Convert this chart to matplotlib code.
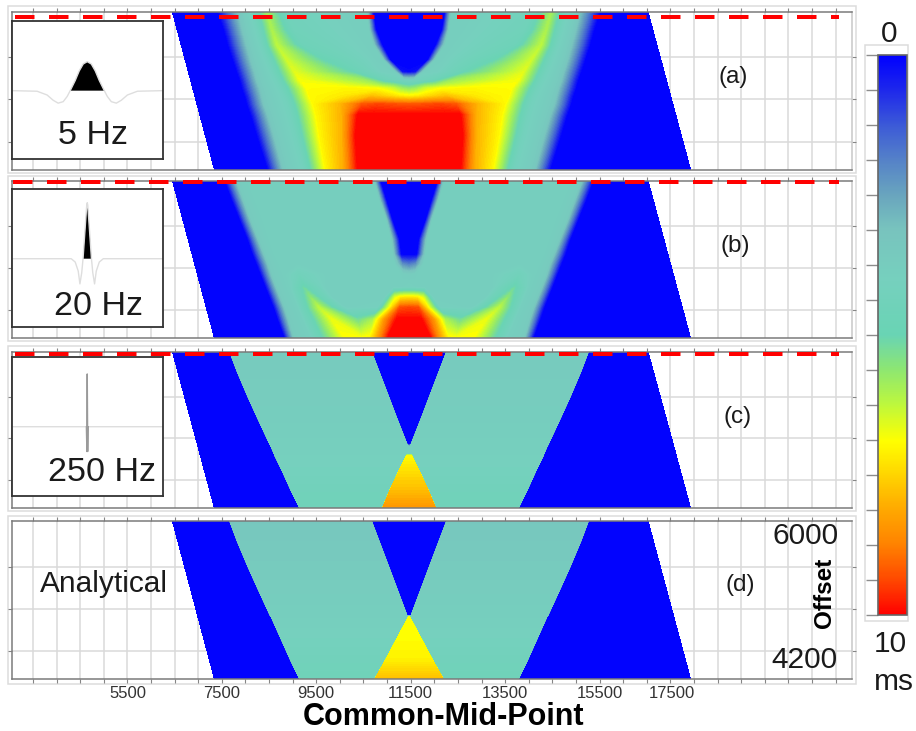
import numpy as np
import matplotlib
matplotlib.use("Agg")
import matplotlib.pyplot as plt
from matplotlib.colors import LinearSegmentedColormap, Normalize
from matplotlib.cm import ScalarMappable
from matplotlib.patches import Rectangle

plt.rcParams['font.family'] = ['Liberation Sans', 'DejaVu Sans']

W, H = 916, 731

# ---------- shared axis data ----------
CMP_CENTER = 11465
XLIM = (3043, 20849)
YLIM = (4165, 6040)
grid_x = np.arange(3500, 20501, 500)
grid_y = [4500, 5000, 5500]
edge_offsets = [4165, 6040]
left_edge = [7343, 6453]
right_edge = [17428, 16527]
xlabel_pos = [5500, 7500, 9500, 11500, 13500, 15500, 17036]
xlabel_txt = ['5500', '7500', '9500', '11500', '13500', '15500', '17500']

# colour scale (ms, r, g, b)
cmap_ms = [0, 0.625, 1.25, 1.875, 2.5, 3.1, 4, 5, 5.6, 6.25, 6.9, 8.1, 8.75, 9.4, 10]
cmap_rgb = [(0, 0, 255), (30, 40, 235), (60, 90, 215), (85, 130, 200), (105, 165, 190),
            (120, 195, 190), (118, 208, 190), (105, 212, 180), (140, 230, 115),
            (190, 248, 60), (255, 255, 0), (255, 170, 0), (255, 130, 0), (255, 70, 0), (255, 0, 0)]
cbar_ticks = np.arange(0, 10.01, 0.625)

# ---------- panel (a): half-widths from centre CMP and delays (ms) ----------
a_rows = [6040, 5825, 5650, 5470, 5325, 5230, 5135, 5040, 4945, 4815, 4575, 4165]
a_hw = [
    [4049, 3922, 3837, 3731, 3646, 3583, 3540, 3477, 3434, 3350, 3222, 2989],
    [3583, 3477, 3392, 3307, 3222, 3180, 3116, 3074, 3032, 2947, 2820, 2629],
    [3307, 3201, 3116, 2989, 2883, 2798, 2714, 2629, 2565, 2502, 2396, 2205],
    [3010, 2904, 2798, 2586, 2417, 2311, 2162, 2099, 2014, 1950, 1887, 1760],
    [2608, 2459, 2268, 1844, 1208, 933, 1357, 1357, 1463, 1420, 1420, 1378],
    [1357, 1145, 933, 721, 615, 509, 657, 784, 996, 1081, 1124, 1081],
    [912, 869, 784, 572, 318, 276, 360, 488, 657, 784, 784, 784],
    [763, 700, 572, 403, 148, 106, 148, 233, 360, 403, 403, 403],
]
a_val = [
    [0] * 12,
    [3.4, 3.5, 3.5, 3.5, 3.5, 3.5, 3.5, 3.5, 3.5, 3.5, 3.5, 3.5],
    [4.2] * 12,
    [5.9, 6.0, 6.2, 6.4, 6.6, 6.8, 6.9, 6.95, 7.0, 7.0, 7.0, 7.0],
    [4.3, 4.4, 4.6, 5.0, 5.0, 5.8, 7.0, 7.2, 7.9, 8.0, 8.0, 8.1],
    [3.9, 3.9, 3.9, 3.9, 4.0, 4.6, 6.8, 7.8, 9.2, 10, 10, 10],
    [3.9, 3.9, 3.9, 3.9, 3.9, 4.3, 6.4, 7.5, 9.4, 10, 10, 10],
    [0, 0, 0, 0, 0.3, 4.1, 5.8, 7.2, 9.3, 10, 10, 10],
]
a_center = [0, 0, 0, 0, 0.1, 4.0, 5.6, 7.0, 9.2, 10, 10, 10]

# ---------- panel (b) ----------
b_rows = [6040, 5814, 5576, 5338, 5159, 5040, 4921, 4767, 4648, 4529, 4386, 4165]
b_hw = [
    [3901, 3752, 3583, 3413, 3307, 3222, 3138, 3032, 2947, 2862, 2777, 2629],
    [3625, 3477, 3328, 3159, 3032, 2947, 2883, 2777, 2692, 2608, 2523, 2417],
    [3371, 3201, 3032, 2904, 2798, 2692, 2608, 2523, 2438, 2353, 2247, 2078],
    [2947, 2777, 2608, 2480, 2374, 2353, 2332, 2226, 2078, 1908, 1632, 1357],
    [2099, 1993, 1887, 1781, 1675, 1675, 1781, 1781, 1632, 1357, 1081, 996],
    [1039, 933, 827, 721, 657, 572, 509, 445, 509, 657, 763, 827],
    [763, 657, 509, 403, 360, 318, 297, 318, 297, 360, 509, 615],
    [615, 488, 360, 212, 170, 148, 127, 170, 170, 191, 254, 445],
]
b_val = [
    [0] * 12,
    [3.6] * 12,
    [3.9] * 12,
    [3.9, 3.9, 3.9, 3.9, 3.9, 3.9, 4.3, 5.1, 5.6, 6.2, 6.7, 6.9],
    [3.9, 3.9, 3.9, 3.9, 3.9, 3.9, 3.9, 3.9, 3.9, 3.9, 5.2, 6.9],
    [3.9, 3.9, 3.9, 3.9, 3.9, 3.9, 3.9, 3.9, 3.9, 3.95, 6.0, 7.0],
    [3.9, 3.9, 3.9, 3.9, 3.9, 3.9, 3.9, 3.9, 6.6, 7.4, 8.5, 8.6],
    [0, 0, 0, 0, 0, 2.2, 3.8, 3.9, 7.2, 9.3, 10, 10],
]
b_center = [0, 0, 0, 0, 0, 1.8, 3.7, 4.0, 7.3, 9.4, 10, 10]

# ---------- panel (c) ----------
c_rows = [6040, 5802, 5505, 5255, 4933, 4898, 4814, 4796, 4624, 4386, 4165]
c_teal_hw = [3795, 3636, 3413, 3212, 2947, 2915, 2851, 2841, 2692, 2502, 2311]
c_inner_hw = [791, 630, 430, 263, 40, 12, 12, 53, 200, 396, 558]
c_teal = [3.6, 3.65, 3.7, 3.8, 3.95, 3.95, 4.0, 4.0, 4.1, 4.3, 4.5]
c_center = [0, 0, 0, 0, 0, 3.95, 4.0, 6.9, 7.3, 7.8, 8.4]

# ---------- panel (d) ----------
d_rows = [6040, 5802, 5505, 5255, 4921, 4903, 4624, 4386, 4165]
d_teal_hw = [3795, 3636, 3413, 3212, 2938, 2915, 2692, 2502, 2311]
d_inner_hw = [791, 630, 430, 263, 40, 10, 275, 500, 720]
d_teal = [3.4, 3.5, 3.6, 3.7, 3.9, 3.9, 4.1, 4.3, 4.5]
d_center = [0, 0, 0, 0, 0, 6.9, 6.9, 7.1, 7.8]

# ---------- inset wavelets ----------
w5_t = [-75, -50, -40, -34, -29, -24, -20, -17, -12, -8, -4, 0, 4, 8, 12, 17, 20, 24, 29, 34, 40, 50, 75]
w5_a = [0, -0.02, -0.15, -0.33, -0.43, -0.38, -0.2, 0, 0.35, 0.68, 0.92, 1, 0.92, 0.68, 0.35, 0,
        -0.2, -0.38, -0.43, -0.33, -0.15, -0.02, 0]
w20_t = [-75, -16, -12, -9, -7.3, -5.5, -4.2, -0.5, 0, 0.5, 4.2, 5.5, 7.3, 9, 12, 16, 75]
w20_a = [0, 0, -0.06, -0.22, -0.45, -0.25, 0, 0.96, 1, 0.96, 0, -0.25, -0.45, -0.22, -0.06, 0, 0]
w250_t = [-75, -0.8, -0.4, 0, 0.4, 0.8, 75]
w250_a = [0, 0, -0.47, 1, -0.47, 0, 0]

red_offsets = [5984, 6025, 6013]
red_starts = [3117, 3070, 3117]
red_end = 20572


def px_axes(x0, y0, x1, y1, **kw):
    return fig.add_axes([x0 / W, 1 - y1 / H, (x1 - x0) / W, (y1 - y0) / H], **kw)


def px_text(x, y, s, **kw):
    kw.setdefault('color', '#1a1a1a')
    fig.text(x / W, 1 - y / H, s, ha='center', va='center', **kw)


def light_frame(x0, y0, x1, y1):
    fig.add_artist(Rectangle((x0 / W, 1 - y1 / H), (x1 - x0) / W, (y1 - y0) / H,
                             transform=fig.transFigure, facecolor='white',
                             edgecolor='#dcdcdc', linewidth=1.1, zorder=-5))


cmap = LinearSegmentedColormap.from_list(
    'delay', [(m / 10, tuple(c / 255 for c in rgb)) for m, rgb in zip(cmap_ms, cmap_rgb)], N=512)
norm = Normalize(0, 10)
levels = np.linspace(0, 10, 121)


def draw_field(ax, rows, hw_cols, val_cols, center):
    rows = np.asarray(rows, float)
    hw = np.asarray(hw_cols, float)
    val = np.asarray(val_cols, float)
    le = np.interp(rows, edge_offsets, left_edge)[None, :]
    re = np.interp(rows, edge_offsets, right_edge)[None, :]
    mid = np.full((1, len(rows)), CMP_CENTER, float)
    X = np.vstack([le, CMP_CENTER - hw, mid, CMP_CENTER + hw[::-1], re]).T
    zero = np.zeros((1, len(rows)))
    V = np.vstack([zero, val, np.asarray(center, float)[None, :], val[::-1], zero]).T
    Y = np.repeat(rows[:, None], X.shape[1], axis=1)
    ax.contourf(X, Y, V, levels=levels, cmap=cmap, norm=norm, zorder=2)


def style_panel(ax, bottom=False):
    ax.set_xlim(*XLIM)
    ax.set_ylim(*YLIM)
    ax.set_xticks(grid_x)
    ax.set_yticks(grid_y)
    ax.set_xticklabels([])
    ax.set_yticklabels([])
    ax.set_axisbelow(True)
    ax.grid(True, color='#dadada', linewidth=1.1)
    ax.tick_params(top=True, bottom=bottom, left=True, right=True, length=3.2,
                   width=0.8, color='#858585', direction='out')
    for side in ('left', 'top', 'bottom'):
        ax.spines[side].set_color('#7a7a7a')
        ax.spines[side].set_linewidth(1.1)
    ax.spines['right'].set_color('#c8c8c8')
    ax.spines['right'].set_linewidth(1.1)


def wavelet(box, t, a, ylim, spike=None):
    ins = px_axes(*box, zorder=5)
    ins.set_xlim(-75, 75)
    ins.set_ylim(*ylim)
    ins.set_xticks([])
    ins.set_yticks([])
    t = np.asarray(t, float)
    a = np.asarray(a, float)
    ins.plot(t, a, color='#dedede', lw=1.0, solid_joinstyle='round')
    ins.fill_between(t, a, 0, where=a >= 0, color='black', linewidth=0, interpolate=True)
    if spike is not None:
        ins.plot(t[1:-1], a[1:-1], color=spike, lw=1.0)
    for s in ins.spines.values():
        s.set_color('#333333')
        s.set_linewidth(1.3)
    return ins


fig = plt.figure(figsize=(W / 100, H / 100), dpi=100, facecolor='white')

panel_boxes = [(11.5, 12, 852, 169.7), (11.5, 180.7, 852, 338),
               (11.5, 351.7, 852, 508), (11.5, 521, 852, 679)]
frames = [(8, 6, 855.5, 172.5), (8, 175.5, 855.5, 341),
          (8, 345.5, 855.5, 511), (8, 516, 855.5, 684)]
axes = []
for i, (b, fr) in enumerate(zip(panel_boxes, frames)):
    light_frame(*fr)
    ax = px_axes(*b)
    ax.patch.set_alpha(0)
    style_panel(ax, bottom=(i == 3))
    axes.append(ax)

draw_field(axes[0], a_rows, a_hw, a_val, a_center)
draw_field(axes[1], b_rows, b_hw, b_val, b_center)


def sharp_columns(teal_hw, inner_hw, teal, center):
    teal_hw, inner_hw = np.asarray(teal_hw, float), np.asarray(inner_hw, float)
    hw = [teal_hw + 10, teal_hw, inner_hw + 10, inner_hw]
    val = [np.zeros(len(teal)), teal, teal, center]
    return hw, val


h, v = sharp_columns(c_teal_hw, c_inner_hw, c_teal, c_center)
draw_field(axes[2], c_rows, h, v, c_center)
h, v = sharp_columns(d_teal_hw, d_inner_hw, d_teal, d_center)
draw_field(axes[3], d_rows, h, v, d_center)

for ax, off, st in zip(axes[:3], red_offsets, red_starts):
    ax.plot([st, red_end], [off, off], color='#ff0000', lw=2.88,
            dashes=(4.875, 3.625), dash_capstyle='butt', zorder=8, clip_on=False)

wavelet((12, 21, 162.5, 159), w5_t, w5_a, (-2.355, 2.4))
wavelet((12, 189, 162.5, 327), w20_t, w20_a, (-1.22, 1.245))
wavelet((12, 357.3, 162.5, 495.7), w250_t, w250_a, (-1.309, 1.317), spike='#9a9a9a')

px_text(93, 136, '5 Hz', fontsize=24.5, zorder=9)
px_text(98, 306, '20 Hz', fontsize=24.5, zorder=9)
px_text(102.5, 472.5, '250 Hz', fontsize=24.5, zorder=9)
px_text(104, 584, 'Analytical', fontsize=21.5, zorder=9)

for x, y, s in [(733.5, 77, '(a)'), (735, 246.5, '(b)'), (738, 416.5, '(c)'), (740, 584.5, '(d)')]:
    px_text(x, y, s, fontsize=17.5, zorder=9)

px_text(805.5, 536, '6000', fontsize=21.5, zorder=9)
px_text(804, 659.5, '4200', fontsize=21.5, zorder=9)
px_text(824.5, 593, 'Offset', fontsize=17.5, fontweight='bold', rotation=90, color='black', zorder=9)

trans = axes[3].get_xaxis_transform()
for x, s in zip(xlabel_pos, xlabel_txt):
    axes[3].text(x, 1 - (693 - 521) / 158, s, transform=trans, ha='center', va='center',
                 fontsize=12, color='#333333', clip_on=False)
px_text(444, 717, 'Common-Mid-Point', fontsize=22, fontweight='bold', color='black')

# colour bar
light_frame(865, 45, 908, 621)
cax = px_axes(877.5, 55, 906.5, 615)
cb = fig.colorbar(ScalarMappable(norm=norm, cmap=cmap), cax=cax)
cax.invert_yaxis()
cax.yaxis.set_ticks_position('left')
cb.set_ticks(cbar_ticks)
cax.set_yticklabels([])
cax.tick_params(axis='y', which='both', length=9, width=1.0, color='#8c8c8c', left=True, right=False)
cax.minorticks_off()
cb.outline.set_edgecolor('#666666')
cb.outline.set_linewidth(1.2)

px_text(889, 34, '0', fontsize=21.5)
px_text(890.5, 644, '10', fontsize=21.5)
px_text(894, 682, 'ms', fontsize=21.5)

fig.savefig('out.png', dpi=100, facecolor='white')
